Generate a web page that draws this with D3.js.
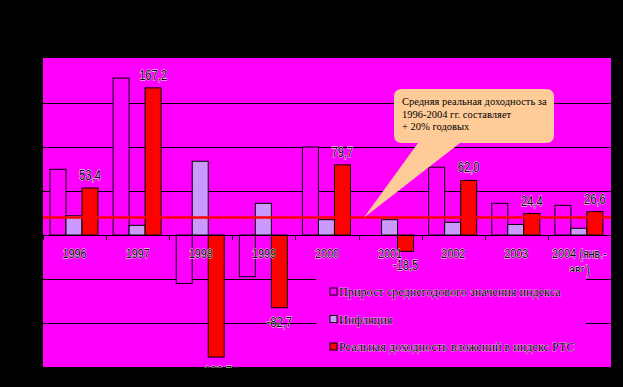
<!DOCTYPE html>
<html>
<head>
<meta charset="utf-8">
<script src="https://cdn.jsdelivr.net/npm/d3@7"></script>
<style>
  body { margin: 0; background: #000; }
  svg { display: block; }
  .lbl { font-family: "Liberation Sans", Arial, sans-serif; }
  .ser { font-family: "Liberation Serif", "Times New Roman", serif; }
</style>
</head>
<body>
<div id="chart"></div>
<script>
// data
const categories = ["1996", "1997", "1998", "1999", "2000", "2001", "2002", "2003", "2004 (янв.-авг.)"];
const indexGrowth = [74.7, 178.3, -55, -47.4, 100, 0, 77, 36, 33.7];
const inflation = [21.8, 11, 83.8, 36, 17.4, 17.4, 14.4, 12, 7.6];
const realReturn = [53.4, 167.2, -138.7, -82.7, 79.7, -18.5, 62.0, 24.4, 26.6];
const seriesNames = [
  "Прирост среднегодового значения индекса",
  "Инфляция",
  "Реальная доходность вложений в индекс РТС"
];
const seriesColors = ["#FF00FF", "#CC99FF", "#FF0000"];
const averageReturn = 20;
const yTicks = [-150, -100, -50, 0, 50, 100, 150, 200];
const calloutLines = ["Средняя реальная доходность за", "1996-2004 гг. составляет", "+ 20% годовых"];

const W = 623, H = 387;
const plot = { left: 43, right: 611, top: 58, bottom: 368 };
const narrow = 0.8; // horizontal squeeze for the narrow label font

const svg = d3.select("#chart").append("svg")
  .attr("width", W).attr("height", H);

svg.append("rect").attr("width", W).attr("height", H).attr("fill", "#000");
svg.append("rect")
  .attr("x", plot.left).attr("y", plot.top)
  .attr("width", plot.right - plot.left).attr("height", plot.bottom - plot.top)
  .attr("fill", "#FF00FF");

svg.append("clipPath").attr("id", "clip").append("rect")
  .attr("x", plot.left).attr("y", plot.top)
  .attr("width", plot.right - plot.left).attr("height", plot.bottom - plot.top);

const x = d3.scaleBand().domain(categories).range([plot.left, plot.right]);
const x1 = d3.scaleBand().domain([0, 1, 2]).range([7, 55]);
const y = d3.scaleLinear().domain([-150, 200]).range([367, 59]);

const g = svg.append("g").attr("clip-path", "url(#clip)");

// grid lines
g.selectAll(".grid").data(yTicks.filter(d => d !== 0 && d !== 200)).enter()
  .append("line")
  .attr("x1", plot.left).attr("x2", plot.right)
  .attr("y1", d => Math.round(y(d)) + 0.5).attr("y2", d => Math.round(y(d)) + 0.5)
  .attr("stroke", "#000").attr("stroke-width", 1);

// bars
const table = categories.map((c, i) => ({ c, vals: [indexGrowth[i], inflation[i], realReturn[i]] }));
const groups = g.selectAll(".grp").data(table).enter().append("g")
  .attr("transform", d => `translate(${x(d.c)},0)`);
groups.selectAll("rect").data(d => d.vals.map((v, k) => ({ v, k }))).enter()
  .append("rect")
  .attr("x", d => x1(d.k))
  .attr("width", x1.bandwidth())
  .attr("y", d => y(Math.max(0, d.v)))
  .attr("height", d => Math.abs(y(d.v) - y(0)))
  .attr("fill", d => seriesColors[d.k])
  .attr("stroke", "#000").attr("stroke-width", 1);

// zero axis with ticks at category boundaries
g.append("line")
  .attr("x1", plot.left).attr("x2", plot.right)
  .attr("y1", y(0) + 0.5).attr("y2", y(0) + 0.5)
  .attr("stroke", "#000");
const bounds = categories.map(c => x(c)).concat([x.range()[1]]);
g.selectAll(".tick").data(bounds).enter().append("line")
  .attr("x1", d => Math.round(d) + 0.5).attr("x2", d => Math.round(d) + 0.5)
  .attr("y1", y(0)).attr("y2", y(0) + 5)
  .attr("stroke", "#000");

// average line
g.append("line")
  .attr("x1", plot.left).attr("x2", plot.right)
  .attr("y1", y(averageReturn)).attr("y2", y(averageReturn))
  .attr("stroke", "#FF0000").attr("stroke-width", 2.5);

// callout
const bx0 = 394, bx1 = 554, by0 = 89, by1 = 143, r = 8;
const tip = [364, y(averageReturn)];
const callout = d3.path();
callout.moveTo(bx0 + r, by0);
callout.lineTo(bx1 - r, by0);
callout.quadraticCurveTo(bx1, by0, bx1, by0 + r);
callout.lineTo(bx1, by1 - r);
callout.quadraticCurveTo(bx1, by1, bx1 - r, by1);
callout.lineTo(460, by1);
callout.lineTo(tip[0], tip[1]);
callout.lineTo(418, by1);
callout.lineTo(bx0 + r, by1);
callout.quadraticCurveTo(bx0, by1, bx0, by1 - r);
callout.lineTo(bx0, by0 + r);
callout.quadraticCurveTo(bx0, by0, bx0 + r, by0);
callout.closePath();
g.append("path").attr("d", callout.toString()).attr("fill", "#FFCC99");

g.selectAll(".ct").data(calloutLines).enter().append("text")
  .attr("class", "ser")
  .attr("x", 402).attr("y", (d, i) => 105 + i * 12.5)
  .attr("font-size", 10.5).attr("fill", "#000")
  .text(d => d);

// value labels
const fmt = v => d3.format(".1f")(v).replace("−", "-").replace(".", ",");
g.selectAll(".vl").data(table).enter().append("g")
  .attr("transform", d => `translate(${x(d.c) + x1(2) + x1.bandwidth() / 2},${d.vals[2] >= 0 ? y(d.vals[2]) - 8 : y(d.vals[2]) + 19}) scale(${narrow},1)`)
  .append("text")
  .attr("class", "lbl")
  .attr("text-anchor", "middle")
  .attr("font-size", 14)
  .attr("fill", "#000").attr("stroke", "#fff").attr("stroke-width", 0.8)
  .attr("paint-order", "stroke")
  .text(d => fmt(d.vals[2]));

// category labels
const catLabel = g.selectAll(".cl").data(categories).enter().append("g")
  .attr("transform", d => `translate(${x(d) + x.bandwidth() / 2},258) scale(${narrow},1)`)
  .append("text")
  .attr("class", "lbl")
  .attr("text-anchor", "middle")
  .attr("font-size", 13.5)
  .attr("fill", "#000").attr("stroke", "#fff").attr("stroke-width", 0.8)
  .attr("paint-order", "stroke");
catLabel.each(function (d) {
  const parts = d.length > 6 ? [d.slice(0, d.indexOf("-") + 1), d.slice(d.indexOf("-") + 1)] : [d];
  d3.select(this).selectAll("tspan").data(parts).enter().append("tspan")
    .attr("x", 0)
    .attr("dy", (p, i) => i === 0 ? 0 : 16)
    .text(p => p);
});

// legend
const lg = svg.append("g");
lg.append("rect").attr("x", 316).attr("y", 272).attr("width", 270).attr("height", 88).attr("fill", "#FF00FF");
const items = lg.selectAll(".li").data(seriesNames).enter().append("g")
  .attr("transform", (d, i) => `translate(330,${288 + i * 27.5})`);
items.append("rect").attr("width", 7).attr("height", 7)
  .attr("fill", (d, i) => seriesColors[i]).attr("stroke", "#000");
items.append("text").attr("class", "ser")
  .attr("x", 9).attr("y", 8)
  .attr("font-size", 12.2)
  .attr("fill", "#000").attr("stroke", "#fff").attr("stroke-width", 0.5)
  .attr("paint-order", "stroke")
  .text(d => d);
</script>
</body>
</html>
